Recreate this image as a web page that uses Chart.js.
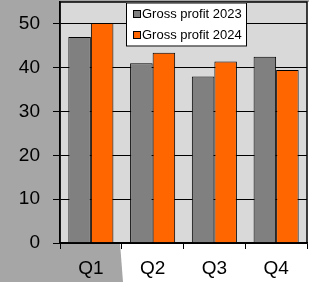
<!DOCTYPE html>
<html>
<head>
<meta charset="utf-8">
<script src="https://cdn.jsdelivr.net/npm/chart.js@4"></script>
<style>
    html, body { margin: 0; padding: 0; background: #ffffff; }
    #wrap { position: relative; width: 309px; height: 282px; }
</style>
</head>
<body>
<div id="wrap"><canvas id="chart" width="309" height="282"></canvas></div>
<script>
// Chart data
const quarters = ['Q1', 'Q2', 'Q3', 'Q4'];
const profit2023 = [47, 41, 38, 42.5];
const profit2024 = [50.2, 43.4, 41.4, 39.5];
const seriesLabels = ['Gross profit 2023', 'Gross profit 2024'];
const yTicks = [0, 10, 20, 30, 40, 50];

const fontFamily = "'Liberation Sans', Arial, sans-serif";
const frameGray = '#a6a6a6';

// Page backdrop, plot fill and plot frame
const backdropPlugin = {
    id: 'backdrop',
    beforeDraw(chart) {
        const ctx = chart.ctx;
        const ca = chart.chartArea;
        ctx.save();
        ctx.fillStyle = '#ffffff';
        ctx.fillRect(0, 0, chart.width, chart.height);
        ctx.fillStyle = frameGray;
        ctx.fillRect(0, 0, ca.left, chart.height);
        ctx.fillRect(0, 0, chart.width, ca.top);
        ctx.beginPath();
        ctx.moveTo(0, ca.bottom);
        ctx.lineTo(ca.left + 60, ca.bottom);
        ctx.lineTo(ca.left + 63, chart.height);
        ctx.lineTo(0, chart.height);
        ctx.closePath();
        ctx.fill();
        ctx.fillStyle = '#d9d9d9';
        ctx.fillRect(ca.left, ca.top, ca.right - ca.left, ca.bottom - ca.top);
        ctx.restore();
    },
    afterDatasetsDraw(chart) {
        const ctx = chart.ctx;
        const ca = chart.chartArea;
        ctx.save();
        ctx.strokeStyle = '#000000';
        ctx.lineWidth = 1.5;
        ctx.strokeRect(ca.left, ca.top, ca.right - ca.left, ca.bottom - ca.top);
        ctx.restore();
    }
};

// Legend box drawn inside the plot, like the original
const boxLegendPlugin = {
    id: 'boxLegend',
    afterDraw(chart) {
        const ctx = chart.ctx;
        const ca = chart.chartArea;
        const x = ca.left + 66;
        const y = ca.top + 0.5;
        const w = 121;
        const h = 44;
        ctx.save();
        ctx.fillStyle = '#ffffff';
        ctx.fillRect(x, y, w, h);
        ctx.strokeStyle = '#000000';
        ctx.lineWidth = 1;
        ctx.strokeRect(x + 0.5, y + 0.5, w - 1, h - 1);
        ctx.font = '13px ' + fontFamily;
        ctx.textBaseline = 'middle';
        chart.data.datasets.forEach((ds, i) => {
            const rowY = y + 11.5 + i * 21;
            ctx.fillStyle = ds.backgroundColor;
            ctx.fillRect(x + 7, rowY - 4, 7, 7);
            ctx.strokeStyle = '#000000';
            ctx.strokeRect(x + 7.5, rowY - 3.5, 7, 7);
            ctx.fillStyle = '#000000';
            ctx.fillText(ds.label, x + 16, rowY + 0.5);
        });
        ctx.restore();
    }
};

new Chart(document.getElementById('chart'), {
    type: 'bar',
    data: {
        labels: quarters,
        datasets: [{
            label: seriesLabels[0],
            data: profit2023,
            backgroundColor: '#808080',
            borderColor: '#000000',
            borderWidth: 1
        }, {
            label: seriesLabels[1],
            data: profit2024,
            backgroundColor: '#ff6600',
            borderColor: '#000000',
            borderWidth: 1
        }]
    },
    options: {
        responsive: false,
        animation: false,
        layout: { padding: { top: 2, right: 2, left: 0, bottom: 0 } },
        datasets: {
            bar: { categoryPercentage: 0.73, barPercentage: 1 }
        },
        plugins: {
            legend: { display: false },
            tooltip: { enabled: false }
        },
        scales: {
            x: {
                afterFit(scale) {
                    scale.height = 39;
                    scale.paddingLeft = 0;
                    scale.paddingRight = 0;
                },
                grid: {
                    drawOnChartArea: false,
                    drawTicks: true,
                    tickLength: 6,
                    color: '#000000',
                    offset: true
                },
                border: { display: true, color: '#000000', width: 1.5 },
                ticks: {
                    color: '#000000',
                    padding: 8,
                    font: { family: fontFamily, size: 19 }
                }
            },
            y: {
                min: 0,
                max: 55,
                afterFit(scale) {
                    scale.width = 60;
                    scale.paddingTop = 0;
                    scale.paddingBottom = 0;
                },
                afterBuildTicks(scale) {
                    scale.ticks = yTicks.map(v => ({ value: v }));
                },
                grid: {
                    color: '#000000',
                    lineWidth: 1,
                    tickLength: 7
                },
                border: { display: true, color: '#000000', width: 1.5 },
                ticks: {
                    color: '#000000',
                    padding: 13,
                    font: { family: fontFamily, size: 19 }
                }
            }
        }
    },
    plugins: [backdropPlugin, boxLegendPlugin]
});
</script>
</body>
</html>
